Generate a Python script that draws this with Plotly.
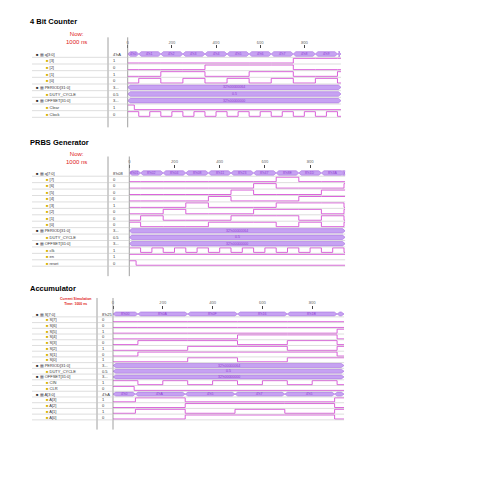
import plotly.graph_objects as go

W = 495
OFF = 8  # page body margin of the browser
FONT = "Liberation Sans"
WAVE = "#d64fd6"
BUSFILL = "#c6a2f2"
BUSLINE = "#a86ee0"

# ---------------- data ----------------
# 4 bit counter
cnt_times = [0, 50, 150, 250, 350, 450, 550, 650, 750, 850, 950]
cnt_vals = [0, 1, 2, 3, 4, 5, 6, 7, 8, 9, 10]
cnt_clear_t = [0, 30]
cnt_clear_v = [1, 0]
cnt_names = ["q[3:0]", "[3]", "[2]", "[1]", "[0]", "PERIOD[31:0]", "DUTY_CYCLE", "OFFSET[31:0]", "Clear", "Clock"]
cnt_values = ["4'hA", "1", "0", "1", "0", "3...", "0.5", "3...", "1", "0"]

# PRBS generator
prbs_times = [0, 50, 150, 250, 350, 450, 550, 650, 750, 850, 950]
prbs_vals = [0x01, 0x02, 0x04, 0x08, 0x11, 0x23, 0x47, 0x8E, 0x1D, 0x3A, 0x75]
prbs_reset_t = [0, 30]
prbs_reset_v = [1, 0]
prbs_names = ["q[7:0]", "[7]", "[6]", "[5]", "[4]", "[3]", "[2]", "[1]", "[0]",
              "PERIOD[31:0]", "DUTY_CYCLE", "OFFSET[31:0]", "clk", "en", "reset"]
prbs_values = ["8'h08", "0", "0", "0", "0", "1", "0", "0", "0", "3...", "0.5", "3...", "1", "1", "0"]

# Accumulator
acc_times = [0, 100, 300, 500, 700, 900]
acc_vals = [0x00, 0x0A, 0x0F, 0x16, 0x1B, 0x25]
a_times = [0, 90, 290, 490, 690, 890]
a_vals = [0x0, 0xA, 0x5, 0x7, 0x5, 0xA]
acc_clr_t = [0, 85]
acc_clr_v = [1, 0]
acc_names = ["S[7:0]", "S[7]", "S[6]", "S[5]", "S[4]", "S[3]", "S[2]", "S[1]", "S[0]",
             "PERIOD[31:0]", "DUTY_CYCLE", "OFFSET[31:0]", "CIN", "CLR",
             "A[3:0]", "A[3]", "A[2]", "A[1]", "A[0]"]
acc_values = ["8'h25", "0", "0", "1", "0", "0", "1", "0", "1",
              "3...", "0.5", "3...", "1", "0", "4'hA", "1", "0", "1", "0"]

period_txt = "32'h00000064"
duty_txt = "0.5"
offset_txt = "32'h00000000"
# -------------------------------------

FW = W - OFF
fig = go.Figure()
annotations = []
shapes = []


def px(v):
    return (v - OFF) / FW


def pyy(v):
    return 1 - (v - OFF) / FW


def add_panel(n, title, title_y, row0, row_last, x0, scale, t_end, names, values, levels,
              sep=108, now_small=False):
    nrows = len(names)
    sp = (row_last - row0) / (nrows - 1)
    top = row0 - 0.7 * sp
    bot = row_last + 0.8 * sp
    xa = "xaxis" if n == 1 else f"xaxis{n}"
    ya = "yaxis" if n == 1 else f"yaxis{n}"
    xr = "x" if n == 1 else f"x{n}"
    yr = "y" if n == 1 else f"y{n}"
    x1 = x0 + scale * t_end
    fig.layout[xa] = dict(domain=[px(x0), px(x1)], range=[0, t_end], side="top", anchor=yr,
                          tickvals=[0, 200, 400, 600, 800], ticks="outside", ticklen=3,
                          tickfont=dict(size=4, color="#555"), showgrid=False, zeroline=False,
                          showline=False)
    fig.layout[ya] = dict(domain=[pyy(bot), pyy(top)], range=[-(nrows - 1) - 0.8, 0.7],
                          anchor=xr, visible=False)
    annotations.append(dict(text="<b>" + title + "</b>", x=px(28), y=pyy(title_y), xref="paper", yref="paper",
                            xanchor="left", yanchor="middle", showarrow=False,
                            font=dict(family=FONT, size=7.5, color="black")))
    if now_small:
        now = "<b>Current Simulation<br>Time: 1000 ns</b>"
        fs = 3.5
    else:
        now = "Now:<br>1000 ns"
        fs = 6
    annotations.append(dict(text=now, x=px(76), y=pyy(row0 - 1.0 * sp), xref="paper", yref="paper",
                            xanchor="center", yanchor="bottom", showarrow=False,
                            font=dict(family=FONT, size=fs, color="#e02020")))
    for xs in (sep, x0):
        shapes.append(dict(type="line", xref="paper", yref="paper", x0=px(xs), x1=px(xs),
                           y0=pyy(bot + 8), y1=pyy(top - 12), line=dict(color="#888", width=0.8)))
    for i, (nm, vl) in enumerate(zip(names, values)):
        bus = "[" in nm and ":" in nm
        if bus:
            txt = "<span style='color:#333'>■</span> <span style='color:#556'>▦</span> " + nm
            xl = 34
        else:
            txt = "<span style='color:#d4b000'>■</span> " + nm
            xl = 44
        annotations.append(dict(text=txt, x=px(xl), y=-i, xref="paper", yref=yr, xanchor="left",
                                yanchor="middle", showarrow=False, font=dict(family=FONT, size=4, color="#333")))
        annotations.append(dict(text=vl, x=px(sep + 2.5), y=-i, xref="paper", yref=yr, xanchor="left",
                                yanchor="middle", showarrow=False, font=dict(family=FONT, size=4, color="#333")))
        shapes.append(dict(type="line", xref="paper", yref=yr, x0=px(32), x1=px(x1), y0=-i - 0.5, y1=-i - 0.5,
                           line=dict(color="#c8c8c8", width=0.6)))
    for i, lv in enumerate(levels):
        kind, a, b = lv
        if kind == "bit":
            ts, vs = a, b
            xs = list(ts) + [t_end]
            ys = [-i - 0.35 + 0.7 * v for v in vs] + [-i - 0.35 + 0.7 * vs[-1]]
            fig.add_trace(go.Scatter(x=xs, y=ys, mode="lines", line=dict(color=WAVE, width=0.9, shape="hv"),
                                     xaxis=xr, yaxis=yr, hoverinfo="skip", showlegend=False))
        else:
            ts, labels = a, b
            edges = list(ts) + [t_end]
            d = 0.012 * t_end
            for k in range(len(labels)):
                s, e = edges[k], edges[k + 1]
                xs = [s, s + d, e - d, e, e - d, s + d, s]
                ys = [-i, -i + 0.35, -i + 0.35, -i, -i - 0.35, -i - 0.35, -i]
                fig.add_trace(go.Scatter(x=xs, y=ys, mode="lines", fill="toself", fillcolor=BUSFILL,
                                         line=dict(color=BUSLINE, width=0.6), xaxis=xr, yaxis=yr,
                                         hoverinfo="skip", showlegend=False))
                if e - s > 0.05 * t_end:
                    annotations.append(dict(text=labels[k], x=(s + e) / 2, y=-i, xref=xr, yref=yr,
                                            showarrow=False, font=dict(family=FONT, size=3.5, color="#9040d0")))


def bits_of(times, vals, nbits):
    out = []
    for b in range(nbits - 1, -1, -1):
        out.append(("bit", times, [(v >> b) & 1 for v in vals]))
    return out


def clock(period, t_end):
    ts, vs, t, v = [], [], 0, 1
    while t < t_end:
        ts.append(t)
        vs.append(v)
        t += period / 2
        v = 1 - v
    return ("bit", ts, vs)


# panel 1
lv1 = [("bus", cnt_times, ["4'h%X" % v for v in cnt_vals])] + bits_of(cnt_times, cnt_vals, 4)
lv1 += [("bus", [0], [period_txt]), ("bus", [0], [duty_txt]), ("bus", [0], [offset_txt]),
        ("bit", cnt_clear_t, cnt_clear_v), clock(100, 966)]
add_panel(1, "4 Bit Counter", 22, 54, 114, 127.7, 0.2208, 966, cnt_names, cnt_values, lv1)

# panel 2
lv2 = [("bus", prbs_times, ["8'h%02X" % v for v in prbs_vals])] + bits_of(prbs_times, prbs_vals, 8)
lv2 += [("bus", [0], [period_txt]), ("bus", [0], [duty_txt]), ("bus", [0], [offset_txt]),
        clock(100, 955), ("bit", [0], [1]), ("bit", prbs_reset_t, prbs_reset_v)]
add_panel(2, "PRBS Generator", 143, 173, 263, 129.3, 0.226, 955, prbs_names, prbs_values, lv2)

# panel 3
lv3 = [("bus", acc_times, ["8'h%02X" % v for v in acc_vals])] + bits_of(acc_times, acc_vals, 8)
lv3 += [("bus", [0], [period_txt]), ("bus", [0], [duty_txt]), ("bus", [0], [offset_txt]),
        clock(200, 928), ("bit", acc_clr_t, acc_clr_v),
        ("bus", a_times, ["4'h%X" % v for v in a_vals])] + bits_of(a_times, a_vals, 4)
add_panel(3, "Accumulator", 288, 314, 417, 113, 0.249, 928, acc_names, acc_values, lv3,
          sep=97, now_small=True)

fig.update_layout(width=FW, height=FW, margin=dict(l=0, r=0, t=0, b=0), plot_bgcolor="white",
                  paper_bgcolor="white", showlegend=False, annotations=annotations, shapes=shapes)
fig.write_html("out.html")
